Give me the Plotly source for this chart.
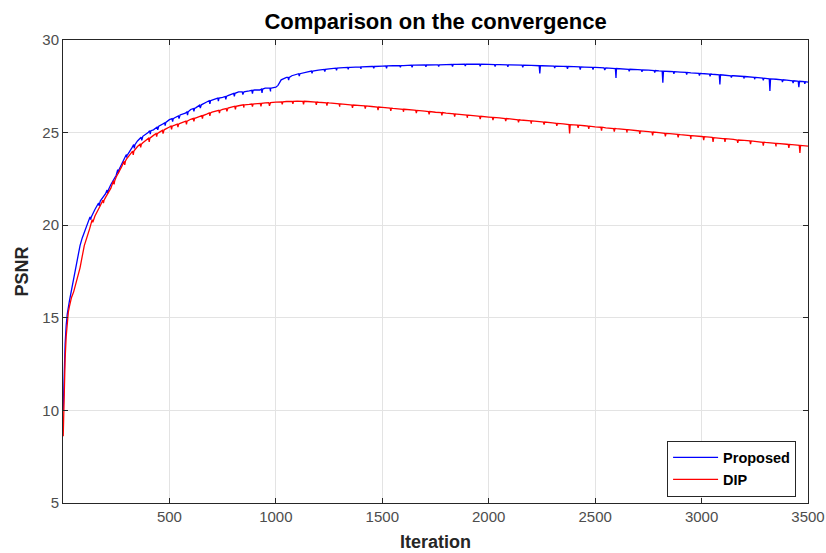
import plotly.graph_objects as go

# ---------------- data ----------------
prop_it = [1, 5, 10, 15, 20, 30, 40, 50, 60, 70, 80, 90,
           100, 125, 150, 175, 200, 225, 250, 275, 300, 325, 350, 375,
           400, 425, 450, 475, 500, 525, 550, 575, 600, 625, 650, 675,
           700, 725, 750, 775, 800, 825, 850, 875, 900, 925, 950, 975,
           1000, 1010, 1025, 1050, 1075, 1100, 1150, 1200, 1250, 1300, 1350, 1400,
           1450, 1500, 1550, 1600, 1650, 1700, 1750, 1800, 1850, 1900, 1950, 2000,
           2050, 2100, 2150, 2200, 2250, 2300, 2350, 2400, 2450, 2500, 2550, 2600,
           2650, 2700, 2750, 2800, 2850, 2900, 2950, 3000, 3050, 3100, 3150, 3200,
           3250, 3300, 3350, 3400, 3450, 3500]
prop_val = [10.0, 12.0, 13.6, 14.6, 15.2, 15.9, 16.5, 17.1, 17.8, 18.4, 18.9, 19.3,
            19.6, 20.3, 20.85, 21.3, 21.7, 22.2, 22.7, 23.3, 23.8, 24.2, 24.55, 24.8,
            25.0, 25.15, 25.35, 25.5, 25.7, 25.8, 25.95, 26.05, 26.25, 26.35, 26.5, 26.65,
            26.75, 26.85, 26.9, 27.0, 27.1, 27.2, 27.2, 27.25, 27.3, 27.3, 27.4, 27.4,
            27.45, 27.55, 27.85, 27.98, 28.07, 28.15, 28.28, 28.37, 28.44, 28.49, 28.52, 28.55,
            28.57, 28.59, 28.61, 28.62, 28.64, 28.65, 28.66, 28.67, 28.68, 28.69, 28.69, 28.68,
            28.67, 28.66, 28.64, 28.63, 28.61, 28.6, 28.58, 28.56, 28.54, 28.52, 28.49, 28.46,
            28.43, 28.4, 28.37, 28.33, 28.3, 28.27, 28.23, 28.19, 28.15, 28.11, 28.07, 28.03,
            27.98, 27.93, 27.88, 27.83, 27.78, 27.73]
# narrow downward noise spikes of the Proposed curve: iteration, level, dip
prop_spike_it = [130, 170, 210, 260, 300, 335, 370, 410, 445, 480, 515, 545, 585, 615, 645,
                 690, 730, 765, 805, 845, 890, 935, 975,
                 1060, 1110, 1170, 1230, 1285, 1340, 1400, 1460, 1520, 1585, 1640, 1705,
                 1765, 1830, 1890, 1960, 2030, 2090, 2160, 2240, 2310, 2370, 2430, 2490,
                 2545, 2598, 2660, 2720, 2780, 2818, 2870, 2930, 2990, 3040, 3086, 3140,
                 3200, 3250, 3290, 3321, 3380, 3430, 3457, 3485]
prop_spike_top = [20.45, 21.2, 21.9, 23.0, 23.8, 24.35, 24.75, 25.1, 25.3, 25.55, 25.75, 25.9, 26.12, 26.3, 26.48,
                  26.72, 26.86, 26.95, 27.12, 27.2, 27.28, 27.35, 27.4,
                  27.98, 28.18, 28.32, 28.41, 28.48, 28.52, 28.55, 28.57, 28.6, 28.62, 28.64, 28.65,
                  28.66, 28.68, 28.69, 28.69, 28.67, 28.66, 28.64, 28.61, 28.59, 28.57, 28.55, 28.52,
                  28.49, 28.46, 28.42, 28.39, 28.35, 28.32, 28.29, 28.25, 28.2, 28.16, 28.12, 28.07,
                  28.03, 27.98, 27.94, 27.9, 27.85, 27.8, 27.77, 27.75]
prop_spike_dip = [20.3, 21.05, 21.72, 22.8, 23.65, 24.15, 24.58, 24.92, 25.15, 25.38, 25.6, 25.76, 25.95, 26.15, 26.32,
                  26.55, 26.7, 26.8, 26.95, 27.05, 27.1, 27.15, 27.22,
                  27.84, 28.05, 28.2, 28.3, 28.36, 28.42, 28.44, 28.47, 28.47, 28.52, 28.53, 28.55,
                  28.57, 28.57, 28.6, 28.58, 28.57, 28.55, 28.53, 28.2, 28.48, 28.45, 28.4, 28.41,
                  28.38, 27.95, 28.31, 28.28, 28.24, 27.7, 28.18, 28.13, 28.08, 28.04, 27.6, 27.97,
                  27.92, 27.88, 27.83, 27.25, 27.73, 27.68, 27.45, 27.63]

dip_it = [1, 5, 10, 15, 20, 25, 30, 40, 50, 60, 70, 80, 90,
          100, 125, 150, 175, 200, 225, 250, 275, 300, 325, 350, 375,
          400, 425, 450, 475, 500, 525, 550, 575, 600, 625, 650, 675,
          700, 725, 750, 775, 800, 825, 850, 875, 900, 925, 950, 975,
          1000, 1050, 1100, 1150, 1200, 1250, 1300, 1350, 1400, 1450, 1500, 1550,
          1600, 1650, 1700, 1750, 1800, 1850, 1900, 1950, 2000, 2050, 2100, 2150,
          2200, 2250, 2300, 2350, 2400, 2450, 2500, 2550, 2600, 2650, 2700, 2750,
          2800, 2850, 2900, 2950, 3000, 3050, 3100, 3150, 3200, 3250, 3300, 3350,
          3400, 3450, 3500]
dip_val = [8.6, 11.0, 12.8, 14.0, 14.9, 15.3, 15.6, 16.1, 16.4, 16.8, 17.3, 17.7, 18.3,
           18.9, 19.8, 20.5, 21.05, 21.5, 22.0, 22.6, 23.15, 23.6, 23.95, 24.25, 24.45,
           24.65, 24.85, 25.0, 25.15, 25.3, 25.4, 25.5, 25.6, 25.72, 25.8, 25.9, 26.0,
           26.1, 26.18, 26.25, 26.32, 26.4, 26.45, 26.5, 26.52, 26.55, 26.58, 26.6, 26.62,
           26.65, 26.68, 26.7, 26.68, 26.64, 26.6, 26.55, 26.5, 26.46, 26.41, 26.36, 26.31,
           26.26, 26.21, 26.16, 26.1, 26.05, 26.0, 25.94, 25.89, 25.84, 25.79, 25.74, 25.68,
           25.63, 25.58, 25.52, 25.47, 25.42, 25.37, 25.31, 25.26, 25.21, 25.16, 25.1, 25.05,
           25.0, 24.95, 24.89, 24.84, 24.79, 24.74, 24.68, 24.63, 24.58, 24.53, 24.47, 24.42,
           24.37, 24.32, 24.27]
dip_spike_it = [140, 190, 240, 290, 330, 365, 405, 440, 470, 510, 540, 580, 615, 655, 690,
                735, 770, 810, 850, 890, 930, 970,
                1030, 1080, 1130, 1190, 1240, 1300, 1360, 1420, 1480, 1540, 1600, 1660, 1720,
                1780, 1840, 1900, 1960, 2020, 2080, 2140, 2200, 2260, 2320, 2380, 2420, 2470,
                2530, 2590, 2650, 2710, 2770, 2830, 2890, 2950, 3010, 3054, 3110, 3170, 3230,
                3290, 3350, 3410, 3462]
dip_spike_top = [20.3, 21.35, 22.4, 23.45, 24.0, 24.37, 24.7, 24.95, 25.12, 25.35, 25.46, 25.62, 25.77, 25.92, 26.06,
                 26.2, 26.3, 26.42, 26.5, 26.54, 26.58, 26.62,
                 26.66, 26.69, 26.69, 26.65, 26.61, 26.55, 26.49, 26.44, 26.38, 26.32, 26.26, 26.2, 26.14,
                 26.08, 26.01, 25.94, 25.88, 25.82, 25.76, 25.69, 25.63, 25.57, 25.5, 25.43, 25.4, 25.35,
                 25.29, 25.22, 25.16, 25.09, 25.03, 24.96, 24.9, 24.84, 24.78, 24.73, 24.67, 24.6, 24.55,
                 24.48, 24.42, 24.36, 24.31]
dip_spike_dip = [20.15, 21.2, 22.2, 23.25, 23.8, 24.2, 24.5, 24.78, 24.95, 25.18, 25.3, 25.45, 25.6, 25.75, 25.9,
                 26.05, 26.15, 26.25, 26.35, 26.4, 26.42, 26.45,
                 26.52, 26.55, 26.52, 26.5, 26.46, 26.4, 26.33, 26.3, 26.22, 26.18, 26.12, 26.06, 25.98,
                 25.93, 25.86, 25.8, 25.73, 25.67, 25.62, 25.55, 25.48, 25.43, 25.36, 24.95, 25.25, 25.2,
                 25.1, 25.05, 25.0, 24.93, 24.85, 24.8, 24.74, 24.65, 24.6, 24.5, 24.5, 24.44, 24.38,
                 24.3, 24.25, 24.18, 23.9]

x_ticks = [500, 1000, 1500, 2000, 2500, 3000, 3500]
y_ticks = [5, 10, 15, 20, 25, 30]


def merge(b_it, b_val, s_it, s_top, s_dip):
    pts = list(zip(b_it, b_val))
    for it, top, dip in zip(s_it, s_top, s_dip):
        pts += [(it - 3, top), (it, dip), (it + 3, top)]
    pts.sort()
    return [p[0] for p in pts], [p[1] for p in pts]


px, py = merge(prop_it, prop_val, prop_spike_it, prop_spike_top, prop_spike_dip)
dx, dy = merge(dip_it, dip_val, dip_spike_it, dip_spike_top, dip_spike_dip)

FONT = "Liberation Sans, Arial, Helvetica, sans-serif"

fig = go.Figure()
fig.add_trace(go.Scatter(x=px, y=py, mode="lines", name="<b>Proposed</b>",
                         line=dict(color="#0000ff", width=1.3)))
fig.add_trace(go.Scatter(x=dx, y=dy, mode="lines", name="<b>DIP</b>",
                         line=dict(color="#ff0000", width=1.3)))

axis_common = dict(showline=True, linecolor="#262626", linewidth=1, mirror="ticks",
                   ticks="inside", ticklen=5, tickcolor="#262626",
                   showgrid=True, gridcolor="#e3e3e3", gridwidth=1,
                   zeroline=False, automargin=False,
                   tickfont=dict(family=FONT, size=15, color="#4d4d4d"))

fig.update_layout(
    width=826, height=553,
    margin=dict(l=63, r=18, t=40, b=50),
    paper_bgcolor="white", plot_bgcolor="white",
    title=dict(text="<b>Comparison on the convergence</b>",
               font=dict(family=FONT, size=22, color="black"),
               x=0.5273, xanchor="center", y=0.975, yanchor="top"),
    xaxis=dict(range=[0, 3500], tickvals=x_ticks,
               title=dict(text="<b>Iteration</b>", standoff=11,
                          font=dict(family=FONT, size=18, color="#262626")),
               **axis_common),
    yaxis=dict(range=[5, 30], tickvals=y_ticks,
               title=dict(text="<b>PSNR</b>", standoff=9,
                          font=dict(family=FONT, size=18, color="#262626")),
               **axis_common),
    legend=dict(x=0.984, xanchor="right", y=0.014, yanchor="bottom",
                bgcolor="white", bordercolor="#262626", borderwidth=1,
                font=dict(family=FONT, size=14.5, color="black"),
                tracegroupgap=0, itemwidth=45),
    showlegend=True,
)

fig.write_html("out.html")
